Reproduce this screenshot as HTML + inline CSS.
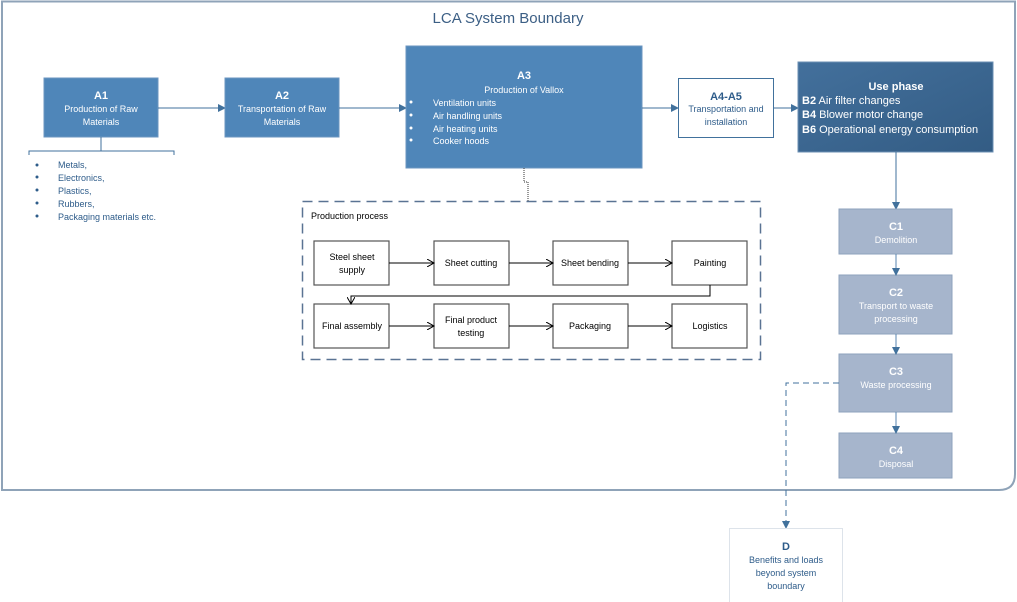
<!DOCTYPE html>
<html><head><meta charset="utf-8"><style>
html,body{margin:0;padding:0;background:#fff;}
svg{display:block;font-family:"Liberation Sans",sans-serif;}
</style></head><body>
<svg width="1017" height="602" viewBox="0 0 1017 602" xmlns="http://www.w3.org/2000/svg">
<defs>
<marker id="ab" markerWidth="8" markerHeight="8" refX="7" refY="4" orient="auto" markerUnits="userSpaceOnUse"><path d="M0,0 L8,4 L0,8 Z" fill="#41719c"/></marker>
<marker id="ak" markerWidth="8" markerHeight="8" refX="7" refY="4" orient="auto" markerUnits="userSpaceOnUse"><path d="M0,0 L7,4 L0,8" fill="none" stroke="#000" stroke-width="1"/></marker>
<linearGradient id="ug" x1="0" y1="0" x2="1" y2="1"><stop offset="0" stop-color="#43709c"/><stop offset="1" stop-color="#335c84"/></linearGradient>
</defs>
<path d="M2,1.5 H1015 V474 Q1015,490 999,490 H2 Z" fill="#fff" stroke="#8fa3b8" stroke-width="2"/>
<text x="508" y="23" font-size="15" fill="#3c5f85" text-anchor="middle">LCA System Boundary</text>

<!-- A1 -->
<rect x="44" y="78" width="114" height="59" fill="#4f86b9" stroke="#6b95c0"/>
<text x="101" y="99" font-size="11" font-weight="bold" fill="#fff" text-anchor="middle">A1</text>
<text x="101" y="112" font-size="9" fill="#fff" text-anchor="middle">Production of Raw</text>
<text x="101" y="125" font-size="9" fill="#fff" text-anchor="middle">Materials</text>
<path d="M101,137 V151 M29,155 V151 H174 V155" fill="none" stroke="#41719c"/>
<g font-size="9" fill="#2e5c8a">
<text x="58" y="168">Metals,</text><text x="58" y="181">Electronics,</text><text x="58" y="194">Plastics,</text><text x="58" y="207">Rubbers,</text><text x="58" y="220">Packaging materials etc.</text>
</g>
<g fill="#2e5c8a"><circle cx="37" cy="165" r="1.5"/><circle cx="37" cy="177" r="1.5"/><circle cx="37" cy="190" r="1.5"/><circle cx="37" cy="203" r="1.5"/><circle cx="37" cy="216" r="1.5"/></g>

<!-- A2 -->
<line x1="158" y1="108" x2="225" y2="108" stroke="#41719c" marker-end="url(#ab)"/>
<rect x="225" y="78" width="114" height="59" fill="#4f86b9" stroke="#6b95c0"/>
<text x="282" y="99" font-size="11" font-weight="bold" fill="#fff" text-anchor="middle">A2</text>
<text x="282" y="112" font-size="9" fill="#fff" text-anchor="middle">Transportation of Raw</text>
<text x="282" y="125" font-size="9" fill="#fff" text-anchor="middle">Materials</text>

<!-- A3 -->
<line x1="339" y1="108" x2="406" y2="108" stroke="#41719c" marker-end="url(#ab)"/>
<rect x="406" y="46" width="236" height="122" fill="#4f86b9" stroke="#6b95c0"/>
<text x="524" y="79" font-size="11" font-weight="bold" fill="#fff" text-anchor="middle">A3</text>
<text x="524" y="93" font-size="9" fill="#fff" text-anchor="middle">Production of Vallox</text>
<g font-size="9" fill="#fff"><text x="433" y="106">Ventilation units</text><text x="433" y="119">Air handling units</text><text x="433" y="132">Air heating units</text><text x="433" y="144">Cooker hoods</text></g>
<g fill="#fff"><circle cx="411" cy="102" r="1.5"/><circle cx="411" cy="115" r="1.5"/><circle cx="411" cy="128" r="1.5"/><circle cx="411" cy="140" r="1.5"/></g>
<path d="M524,168 V182 H528 V201" fill="none" stroke="#333" stroke-dasharray="1,1"/>

<!-- A4-A5 -->
<line x1="642" y1="108" x2="678" y2="108" stroke="#41719c" marker-end="url(#ab)"/>
<rect x="678.5" y="78.5" width="95" height="59" fill="#fff" stroke="#41719c"/>
<text x="726" y="100" font-size="11" font-weight="bold" fill="#2e5c8a" text-anchor="middle">A4-A5</text>
<text x="726" y="112" font-size="9" fill="#2e5c8a" text-anchor="middle">Transportation and</text>
<text x="726" y="125" font-size="9" fill="#2e5c8a" text-anchor="middle">installation</text>

<!-- Use phase -->
<line x1="773" y1="108" x2="798" y2="108" stroke="#41719c" marker-end="url(#ab)"/>
<rect x="798" y="62" width="195" height="90" fill="url(#ug)" stroke="#6b8fb3"/>
<text x="896" y="90" font-size="11" font-weight="bold" fill="#fff" text-anchor="middle">Use phase</text>
<g font-size="11" fill="#fff"><text x="802" y="104"><tspan font-weight="bold">B2</tspan> Air filter changes</text><text x="802" y="118"><tspan font-weight="bold">B4</tspan> Blower motor change</text><text x="802" y="133"><tspan font-weight="bold">B6</tspan> Operational energy consumption</text></g>

<!-- C -->
<line x1="896" y1="152" x2="896" y2="209" stroke="#41719c" marker-end="url(#ab)"/>
<g fill="#a6b5cc" stroke="#8ea2bd">
<rect x="839" y="209" width="113" height="45"/><rect x="839" y="275" width="113" height="59"/><rect x="839" y="354" width="113" height="58"/><rect x="839" y="433" width="113" height="45"/>
</g>
<g stroke="#5a85b0"><line x1="896" y1="254" x2="896" y2="275" marker-end="url(#ab)"/><line x1="896" y1="334" x2="896" y2="354" marker-end="url(#ab)"/><line x1="896" y1="412" x2="896" y2="433" marker-end="url(#ab)"/></g>
<g fill="#fff" text-anchor="middle">
<text x="896" y="230" font-size="11" font-weight="bold">C1</text><text x="896" y="243" font-size="9">Demolition</text>
<text x="896" y="296" font-size="11" font-weight="bold">C2</text><text x="896" y="309" font-size="9">Transport to waste</text><text x="896" y="322" font-size="9">processing</text>
<text x="896" y="375" font-size="11" font-weight="bold">C3</text><text x="896" y="388" font-size="9">Waste processing</text>
<text x="896" y="454" font-size="11" font-weight="bold">C4</text><text x="896" y="467" font-size="9">Disposal</text>
</g>
<path d="M839,383 H786 V528" fill="none" stroke="#41719c" stroke-dasharray="6,4" marker-end="url(#ab)"/>

<!-- D -->
<rect x="729.5" y="528.5" width="113" height="74" fill="#fff" stroke="#dde3ea"/>
<text x="786" y="550" font-size="11" font-weight="bold" fill="#2e5c8a" text-anchor="middle">D</text>
<g font-size="9" fill="#2e5c8a" text-anchor="middle"><text x="786" y="563">Benefits and loads</text><text x="786" y="576">beyond system</text><text x="786" y="589">boundary</text></g>

<!-- Production process -->
<rect x="302.5" y="201.5" width="458" height="158" fill="none" stroke="#5a7393" stroke-width="1.5" stroke-dasharray="10,6"/>
<text x="311" y="219" font-size="9" fill="#000">Production process</text>
<g fill="#fff" stroke="#555" stroke-width="1.2">
<rect x="314" y="241" width="75" height="44"/><rect x="434" y="241" width="75" height="44"/><rect x="553" y="241" width="75" height="44"/><rect x="672" y="241" width="75" height="44"/>
<rect x="314" y="304" width="75" height="44"/><rect x="434" y="304" width="75" height="44"/><rect x="553" y="304" width="75" height="44"/><rect x="672" y="304" width="75" height="44"/>
</g>
<g stroke="#000" fill="none">
<line x1="389" y1="263" x2="434" y2="263" marker-end="url(#ak)"/><line x1="509" y1="263" x2="553" y2="263" marker-end="url(#ak)"/><line x1="628" y1="263" x2="672" y2="263" marker-end="url(#ak)"/>
<path d="M710,285 V296 H351 V304" marker-end="url(#ak)"/>
<line x1="389" y1="326" x2="434" y2="326" marker-end="url(#ak)"/><line x1="509" y1="326" x2="553" y2="326" marker-end="url(#ak)"/><line x1="628" y1="326" x2="672" y2="326" marker-end="url(#ak)"/>
</g>
<g font-size="9" fill="#000" text-anchor="middle">
<text x="352" y="260">Steel sheet</text><text x="352" y="273">supply</text>
<text x="471" y="266">Sheet cutting</text><text x="590" y="266">Sheet bending</text><text x="710" y="266">Painting</text>
<text x="352" y="329">Final assembly</text><text x="471" y="323">Final product</text><text x="471" y="336">testing</text>
<text x="590" y="329">Packaging</text><text x="710" y="329">Logistics</text>
</g>
</svg>
</body></html>
